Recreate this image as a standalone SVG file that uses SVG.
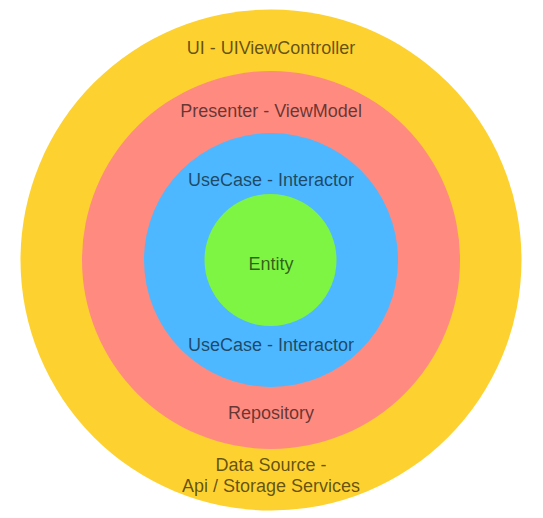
<svg xmlns="http://www.w3.org/2000/svg" width="543" height="518" viewBox="0 0 543 518">
<style>
  .lbl { font-family: "Liberation Sans", Arial, Helvetica, sans-serif; font-size: 18px; fill: #000; fill-opacity: 0.62; text-anchor: middle; }
</style>
<rect width="543" height="518" fill="#ffffff"/>
<g id="ui-layer">
  <circle cx="271" cy="260" r="250.5" fill="#FDD12F"/>
  <text class="lbl" x="271" y="54">UI - UIViewController</text>
  <text class="lbl" x="271" y="471">Data Source -</text>
  <text class="lbl" x="271" y="492">Api / Storage Services</text>
</g>
<g id="presenter-layer">
  <circle cx="271" cy="260" r="189" fill="#FF8A80"/>
  <text class="lbl" x="271" y="117">Presenter - ViewModel</text>
  <text class="lbl" x="271" y="419">Repository</text>
</g>
<g id="usecase-layer">
  <circle cx="271" cy="260" r="127" fill="#4DB8FF"/>
  <text class="lbl" x="271" y="186">UseCase - Interactor</text>
  <text class="lbl" x="271" y="351">UseCase - Interactor</text>
</g>
<g id="entity">
  <circle cx="270.5" cy="260" r="66" fill="#7EF542"/>
  <text class="lbl" x="271" y="270">Entity</text>
</g>
<g id="connectors"/>
</svg>
